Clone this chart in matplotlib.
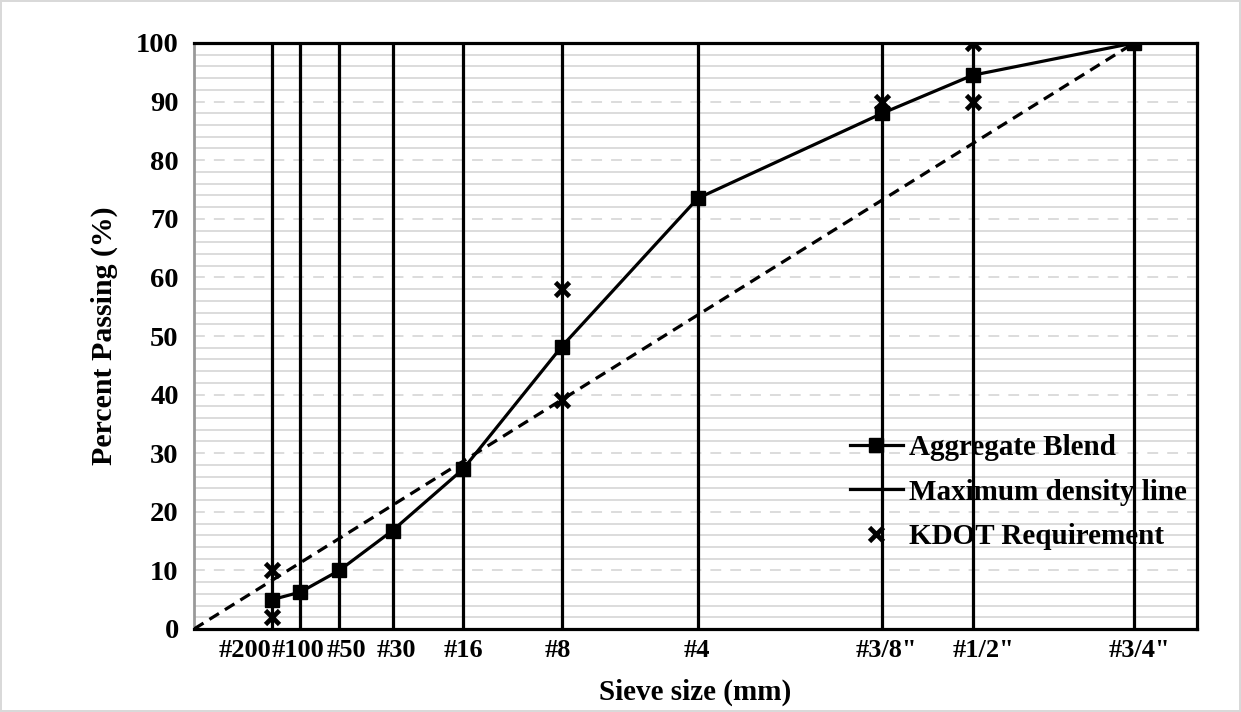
import matplotlib
matplotlib.use("Agg")
import matplotlib.pyplot as plt
from matplotlib.lines import Line2D
from matplotlib.ticker import MultipleLocator
from matplotlib.transforms import ScaledTranslation
import numpy as np

# ---- data ----
sieve_labels = ['#200', '#100', '#50', '#30', '#16', '#8', '#4', '#3/8"', '#1/2"', '#3/4"']
sieve_mm = [0.075, 0.15, 0.3, 0.6, 1.18, 2.36, 4.75, 9.5, 12.5, 19.0]
blend_passing = [5.0, 6.3, 10.0, 16.8, 27.3, 48.2, 73.5, 88.0, 94.5, 100.0]
kdot_mm = [0.075, 0.075, 2.36, 2.36, 9.5, 12.5, 12.5]
kdot_passing = [2.0, 10.0, 39.0, 58.0, 90.0, 90.0, 100.0]
maxden_mm = [0.0, 19.0]
maxden_passing = [0.0, 100.0]
power = 0.45

plt.rcParams['font.family'] = ['Liberation Serif', 'DejaVu Serif']
plt.rcParams['font.weight'] = 'bold'

W, H = 1241, 712
fig = plt.figure(figsize=(W / 100, H / 100), dpi=100)
fig.patch.set_edgecolor('#d9d9d9')
fig.patch.set_linewidth(1.5)
ax = fig.add_axes([194 / W, (H - 629) / H, (1197 - 194) / W, (629 - 43) / H])

xs = np.array(sieve_mm) ** power
kx = np.array(kdot_mm) ** power
mx = np.array(maxden_mm) ** power

# grid
ax.set_ylim(0, 100)
ax.set_xlim(0, 4.014)
ax.yaxis.set_major_locator(MultipleLocator(10))
ax.yaxis.set_minor_locator(MultipleLocator(2))
ax.grid(which='minor', axis='y', color='#d9d9d9', lw=1.3, ls='-', zorder=0)
ax.grid(which='major', axis='y', color='#d9d9d9', lw=1.3, ls=(0, (6, 5)), zorder=0)
ax.set_axisbelow(True)

# vertical sieve lines
ax.vlines(xs, 0, 100, colors='black', lw=2.3, zorder=2)

# max density line
ax.plot(mx, maxden_passing, color='black', lw=2.3, ls=(0, (3.5, 2.2)), zorder=3)
# KDOT
ax.plot(kx, kdot_passing, ls='none', marker='x', color='black', ms=9.5, mew=3.4, zorder=4)
# blend
ax.plot(xs, blend_passing, color='black', lw=2.3, marker='s', ms=10.5, zorder=5)

# ticks
ax.set_xticks(xs)
ax.set_xticklabels(sieve_labels)
ax.tick_params(axis='x', length=0, pad=7, labelsize=19)
ax.tick_params(axis='y', which='both', length=0, pad=11, labelsize=20.5)
label_shift_px = [-27, -2, 7, 4, 0, -4, -1, 4, 11, 5]
for lab, dx in zip(ax.get_xticklabels(), label_shift_px):
    lab.set_fontweight('bold')
    lab.set_transform(lab.get_transform() + ScaledTranslation(dx / 100, 0, fig.dpi_scale_trans))
for lab in ax.get_yticklabels():
    lab.set_fontweight('bold')

ax.set_xlabel('Sieve size (mm)', fontsize=21, fontweight='bold', labelpad=12)
ax.set_ylabel('Percent Passing (%)', fontsize=21.5, fontweight='bold', labelpad=13)

# spines
for s in ['top', 'right', 'bottom']:
    ax.spines[s].set_color('black')
    ax.spines[s].set_linewidth(2.3)
ax.spines['left'].set_color('#999999')
ax.spines['left'].set_linewidth(2.0)

# legend
handles = [
    Line2D([], [], color='black', lw=2.3, marker='s', ms=10.0),
    Line2D([], [], color='black', lw=2.3),
    Line2D([], [], color='black', ls='none', marker='x', ms=9.5, mew=3.4),
]
labels = ['Aggregate Blend', 'Maximum density line', 'KDOT Requirement']
leg = fig.legend(handles, labels, loc='center left',
                 bbox_to_anchor=(850 / W, (H - 492) / H),
                 frameon=False, fontsize=21, handlelength=1.8,
                 handletextpad=0.22, labelspacing=0.6, borderpad=0,
                 borderaxespad=0)
for t in leg.get_texts():
    t.set_fontweight('bold')

fig.savefig('out.png', dpi=100)
